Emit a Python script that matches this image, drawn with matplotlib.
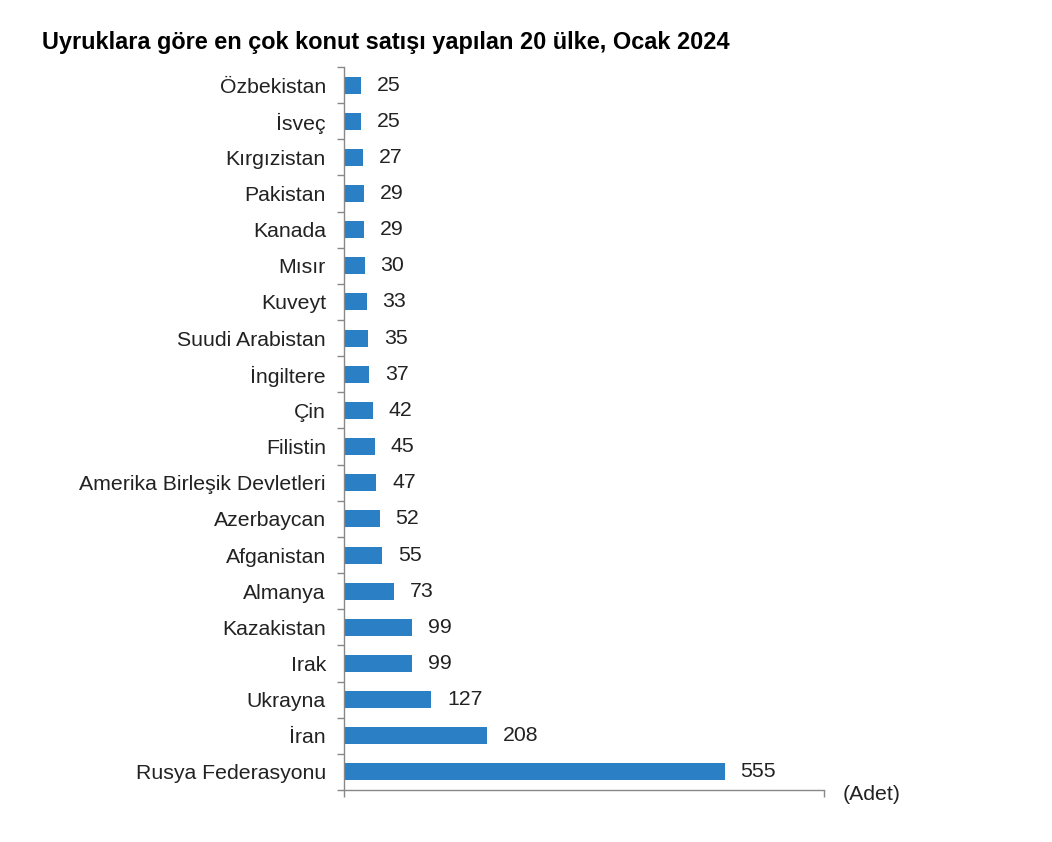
import matplotlib
matplotlib.use("Agg")
import matplotlib.pyplot as plt

countries = ["Özbekistan", "İsveç", "Kırgızistan", "Pakistan", "Kanada", "Mısır", "Kuveyt",
             "Suudi Arabistan", "İngiltere", "Çin", "Filistin", "Amerika Birleşik Devletleri",
             "Azerbaycan", "Afganistan", "Almanya", "Kazakistan", "Irak", "Ukrayna", "İran",
             "Rusya Federasyonu"]
values = [25, 25, 27, 29, 29, 30, 33, 35, 37, 42, 45, 47, 52, 55, 73, 99, 99, 127, 208, 555]

plt.rcParams['font.family'] = ['Liberation Sans', 'DejaVu Sans']

fig = plt.figure(figsize=(10.52, 8.42), dpi=100)
ax = fig.add_axes([344/1052, 1-790/842, (824-344)/1052, (790-67)/842])

n = len(countries)
ypos = list(range(n))
ax.barh(ypos, values, height=0.47, color="#2B7FC5")
ax.set_ylim(n - 0.5, -0.5)
ax.set_xlim(0, 700)

fs = 15.3
ax.set_yticks(ypos)
ax.set_yticklabels(countries, fontsize=fs, color="#222222")
ax.tick_params(axis='y', length=0, pad=13)
ax.set_yticks([i - 0.5 for i in range(n + 1)], minor=True)
ax.tick_params(axis='y', which='minor', length=5, color="#888888", width=1)
ax.set_xticks([0, 700])
ax.set_xticklabels([])
ax.tick_params(axis='x', length=5, color="#888888", width=1)

for s in ["top", "right"]:
    ax.spines[s].set_visible(False)
for s in ["left", "bottom"]:
    ax.spines[s].set_color("#888888")
    ax.spines[s].set_linewidth(1)

for y, v in zip(ypos, values):
    ax.annotate(str(v), (v, y), xytext=(11.5, 0), textcoords="offset points",
                va="center", ha="left", fontsize=fs, color="#222222")

fig.text(843/1052, 1-795/842, "(Adet)", fontsize=fs, color="#222222", va="center", ha="left")
fig.text(42/1052, 1-42/842, "Uyruklara göre en çok konut satışı yapılan 20 ülke, Ocak 2024",
         fontsize=16.9, fontweight="bold", va="center", ha="left")

fig.savefig("out.png", dpi=100)
